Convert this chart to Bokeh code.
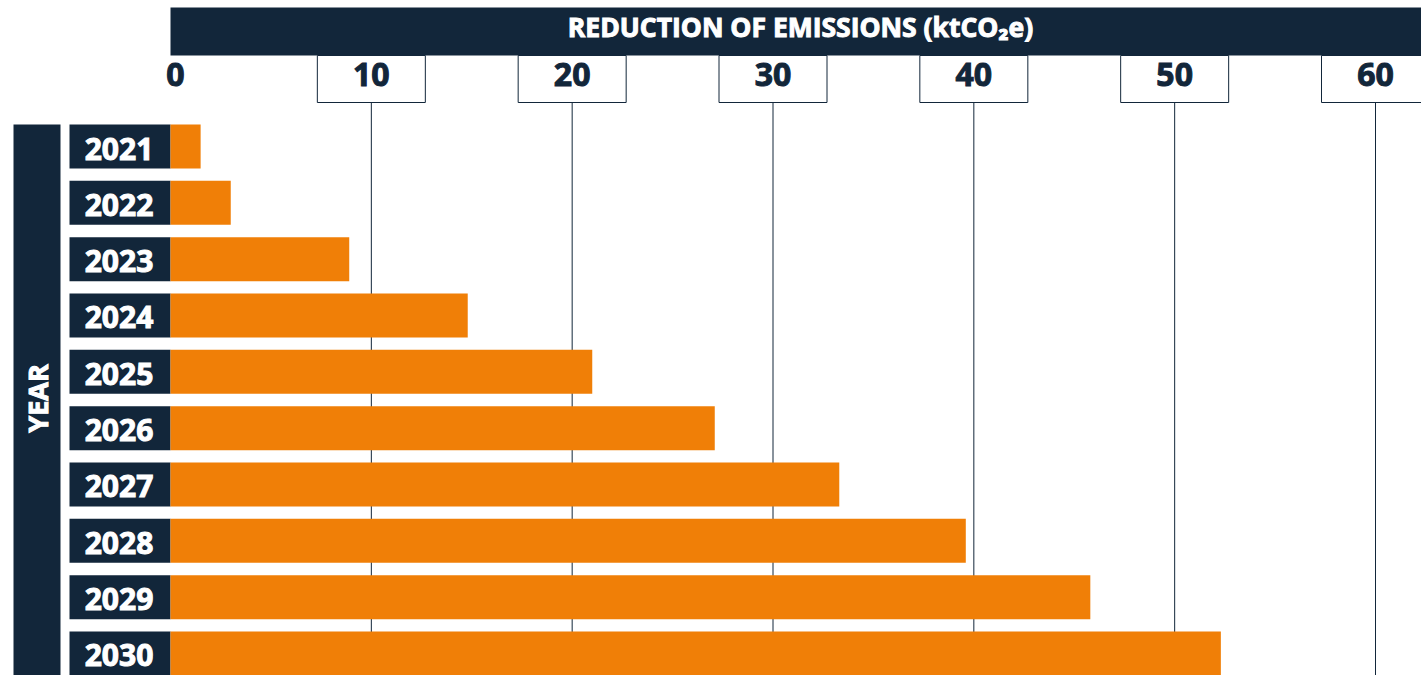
from bokeh.plotting import figure
from bokeh.models import Range1d, ColumnDataSource
from bokeh.core.properties import value
from bokeh.embed import file_html
from bokeh.resources import INLINE
import math

# ---- data ----
years = ["2021", "2022", "2023", "2024", "2025", "2026", "2027", "2028", "2029", "2030"]
reductions = [1.5, 3.0, 8.9, 14.8, 21.0, 27.1, 33.3, 39.6, 45.8, 52.3]
ticks = [0, 10, 20, 30, 40, 50, 60]
tick_labels = ["0", "10", "20", "30", "40", "50", "60"]
x_title = "REDUCTION OF EMISSIONS (ktCO\u2082e)"
y_title = "YEAR"

NAVY = "#12263a"
ORANGE = "#f07f07"
FONT = "Open Sans"

W, H = 1421, 675
x0_px = 170.0                     # pixel of value 0
scale = (1375.0 - x0_px) / 60.0   # px per unit
row0_px = 146.0                   # centre of first row
pitch = 56.33                     # px per row
bar_h = 44.0 / pitch

p = figure(width=W, height=H, output_backend="svg", toolbar_location=None,
           x_range=Range1d(-x0_px / scale, (W - x0_px) / scale),
           y_range=Range1d((H - row0_px) / pitch, -row0_px / pitch),
           x_axis_location=None, y_axis_location=None,
           min_border=0, outline_line_color=None, background_fill_color="white",
           border_fill_color="white")
p.xgrid.visible = False
p.ygrid.visible = False
p.extra_x_ranges = {"px": Range1d(0, W)}
p.extra_y_ranges = {"px": Range1d(H, 0)}

idx = list(range(len(years)))
src = ColumnDataSource(dict(y=idx, ty=[i + 2.0 / pitch for i in idx], year=years, val=reductions))
tsrc = ColumnDataSource(dict(x=ticks[1:], lab=tick_labels[1:]))

# grid lines (behind bars)
p.segment(x0="x", y0=102, x1="x", y1=H, source=tsrc, y_range_name="px",
          line_color=NAVY, line_width=1)

# header bar
p.quad(left=0, right=(W - x0_px) / scale + 1, top=7, bottom=55,
       y_range_name="px", fill_color=NAVY, line_color=None)
p.text(x=[800], y=[26.5], text=[x_title], x_range_name="px", y_range_name="px",
       text_color="white", text_outline_color="white", text_font=value(FONT), text_font_style="bold",
       text_font_size=value("26.5px"), text_align="center", text_baseline="middle")

# tick boxes and labels
p.rect(x="x", y=78.5, width=108, height=47, width_units="screen", source=tsrc,
       y_range_name="px", fill_color="white", line_color=NAVY, line_width=1)
p.text(x="x", y=73.5, text="lab", source=tsrc, y_range_name="px",
       text_color=NAVY, text_outline_color=NAVY, text_font=value(FONT), text_font_style="bold",
       text_font_size=value("32px"), text_align="center", text_baseline="middle")
p.text(x=[ticks[0]], y=[73.5], text=[tick_labels[0]], y_range_name="px", x_offset=5,
       text_color=NAVY, text_outline_color=NAVY, text_font=value(FONT), text_font_style="bold",
       text_font_size=value("32px"), text_align="center", text_baseline="middle")

# YEAR side box
p.quad(left=13, right=60, top=124, bottom=H + 10, x_range_name="px", y_range_name="px",
       fill_color=NAVY, line_color=None)
p.text(x=[37], y=[398], text=[y_title], x_range_name="px", y_range_name="px",
       angle=math.pi / 2, text_color="white", text_outline_color="white", text_font=value(FONT),
       text_font_style="bold", text_font_size=value("27px"), text_align="center",
       text_baseline="middle")

# year label boxes
p.hbar(y="y", left=69, right=170, height=bar_h, source=src, x_range_name="px",
       fill_color=NAVY, line_color=None)
p.text(x=118.5, y="ty", text="year", source=src, x_range_name="px",
       text_color="white", text_outline_color="white", text_font=value(FONT), text_font_style="bold",
       text_font_size=value("30px"), text_align="center", text_baseline="middle")

# bars
p.hbar(y="y", left=0, right="val", height=bar_h, source=src,
       fill_color=ORANGE, line_color=None)

open("out.html", "w").write(file_html(p, INLINE))
